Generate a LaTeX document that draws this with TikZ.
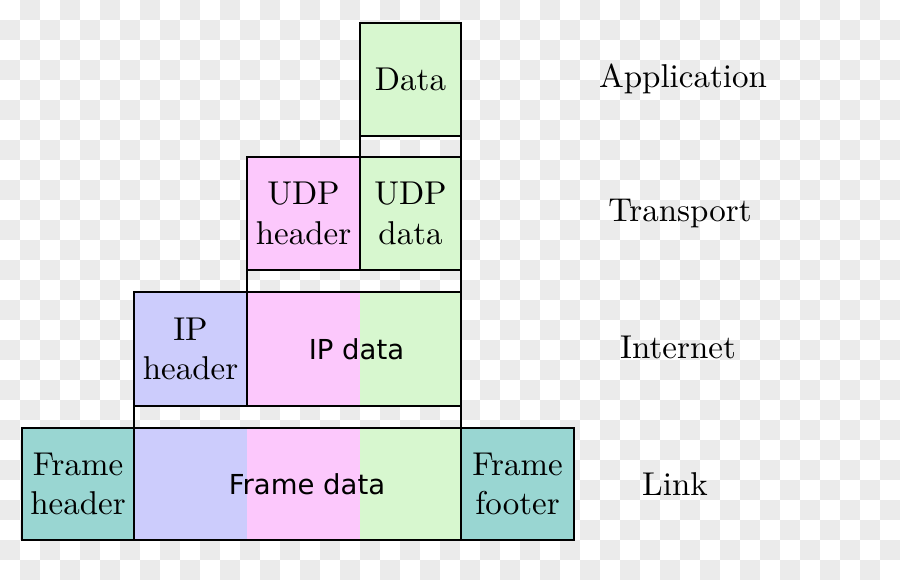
\documentclass[tikz,border=0pt]{standalone}
\usepackage{fontspec}
\newfontfamily\dvsans{DejaVu Sans}
\newfontfamily\lmten{lmroman10-regular.otf}
\newcommand\serifbig{\lmten\fontsize{33}{39.3}\selectfont}
\newcommand\sansbig{\dvsans\fontsize{27.5}{33}\selectfont}
\definecolor{cgreen}{HTML}{D7F7CF}
\definecolor{cpink}{HTML}{FCC8FC}
\definecolor{cblue}{HTML}{CCCCFC}
\definecolor{cteal}{HTML}{99D6D2}
\definecolor{checker}{HTML}{EBEBEB}
\begin{document}
\begin{tikzpicture}[x=1pt,y=-1pt,
  cell/.style={draw=black, line width=2pt, inner sep=0pt, outer sep=0pt, align=center, font=\serifbig, anchor=north west},
  gapline/.style={draw=black, line width=2pt},
  layer/.style={font=\serifbig, anchor=base, inner sep=0pt}]
\useasboundingbox (0,0) rectangle (900,580);
% background checkerboard
\fill[white] (0,0) rectangle (900,580);
\foreach \j in {0,...,28}{
  \pgfmathtruncatemacro\s{mod(\j+1,2)}
  \pgfmathtruncatemacro\t{\s+2}
  \foreach \i in {\s,\t,...,44}{
    \fill[checker] (\i*20,\j*20) rectangle (\i*20+20,\j*20+20);
  }
}
% fills of multi-coloured data areas
\fill[cpink]  (247,292) rectangle (360,406);
\fill[cgreen] (360,292) rectangle (461,406);
\fill[cblue]  (134,428) rectangle (247,540);
\fill[cpink]  (247,428) rectangle (360,540);
\fill[cgreen] (360,428) rectangle (461,540);
% application
\node[cell, fill=cgreen, minimum width=101pt, minimum height=113pt] (data) at (360,23) {Data};
% transport
\node[cell, fill=cpink, minimum width=113pt, minimum height=113pt] (udph) at (247,157) {UDP\\header};
\node[cell, fill=cgreen, minimum width=101pt, minimum height=113pt] (udpd) at (360,157) {UDP\\data};
% internet
\node[cell, fill=cblue, minimum width=113pt, minimum height=114pt] (iph) at (134,292) {IP\\header};
\node[cell, font=\sansbig, minimum width=214pt, minimum height=114pt] (ipd) at (247,292) {\hspace*{5pt}IP data};
% link
\node[cell, fill=cteal, minimum width=112pt, minimum height=112pt] (fh) at (22,428) {Frame\\header};
\node[cell, font=\sansbig, minimum width=327pt, minimum height=112pt] (fd) at (134,428) {\hspace*{19pt}Frame data};
\node[cell, fill=cteal, minimum width=113pt, minimum height=112pt] (ff) at (461,428) {Frame\\footer};
% encapsulation gaps
\draw[gapline] (data.south west) -- (udpd.north west);
\draw[gapline] (data.south east) -- (udpd.north east);
\draw[gapline] (udph.south west) -- (ipd.north west);
\draw[gapline] (udpd.south east) -- (ipd.north east);
\draw[gapline] (iph.south west) -- (fd.north west);
\draw[gapline] (ipd.south east) -- (fd.north east);
% layer names
\node[layer] (lapp) at (683,88) {Application};
\node[layer] (ltra) at (680,222) {Transport};
\node[layer] (lint) at (678,358) {Internet};
\node[layer] (llnk) at (675,495) {Link};
\end{tikzpicture}
\end{document}
